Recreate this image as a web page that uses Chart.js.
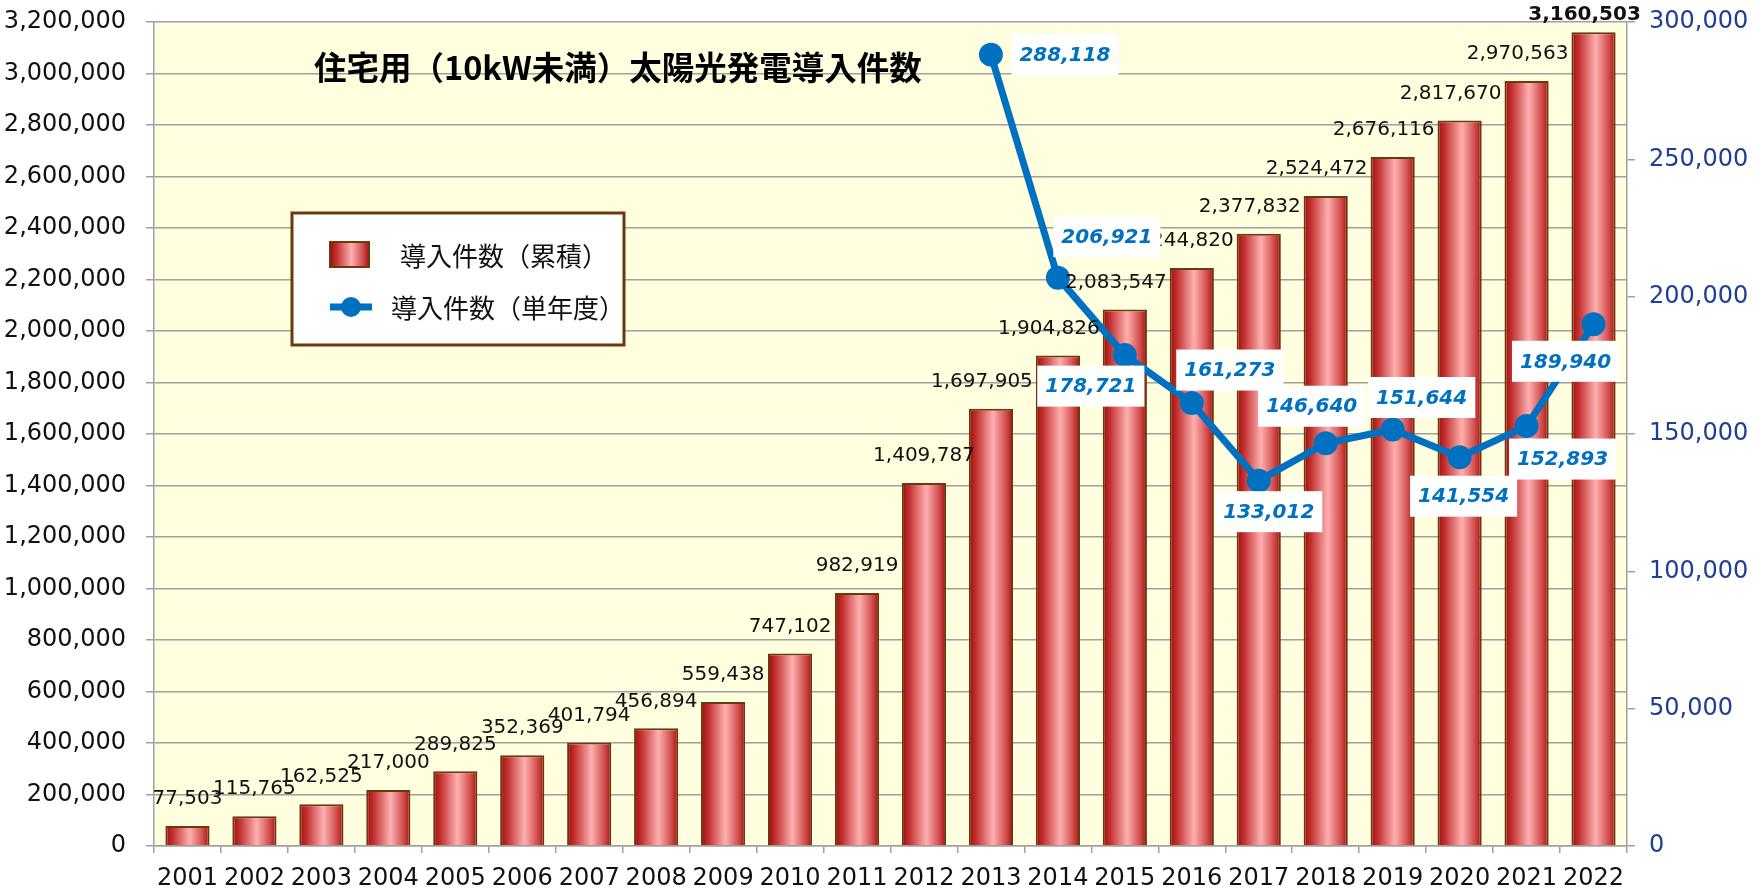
<!DOCTYPE html>
<html lang="ja">
<head>
  <meta charset="UTF-8">
  <title>住宅用（10kW未満）太陽光発電導入件数</title>
  <style>
    html, body { margin: 0; padding: 0; background: #ffffff; }
    #wrap { width: 1757px; height: 895px; }
  </style>
</head>
<body>
  <div id="wrap"><canvas id="solarChart" width="1757" height="895"></canvas></div>

  <script src="https://cdn.jsdelivr.net/npm/chart.js@4"></script>
  <script>
    // data
    const years = ['2001', '2002', '2003', '2004', '2005', '2006', '2007', '2008', '2009', '2010', '2011',
      '2012', '2013', '2014', '2015', '2016', '2017', '2018', '2019', '2020', '2021', '2022'];
    const cumulative = [77503, 115765, 162525, 217000, 289825, 352369, 401794, 456894, 559438, 747102, 982919,
      1409787, 1697905, 1904826, 2083547, 2244820, 2377832, 2524472, 2676116, 2817670, 2970563, 3160503];
    const yearly = [null, null, null, null, null, null, null, null, null, null, null,
      null, 288118, 206921, 178721, 161273, 133012, 146640, 151644, 141554, 152893, 189940];

    const chartTitle = '住宅用（10kW未満）太陽光発電導入件数';
    const barLabel = '導入件数（累積）';
    const lineLabel = '導入件数（単年度）';

    // where each yearly label box sits relative to its point (layout only)
    const yearlyLabelNudge = {
      2013: [74, 0], 2014: [49, -41], 2015: [-34, 31], 2016: [38, -33], 2017: [10, 31],
      2018: [-14, -37], 2019: [29, -32], 2020: [4, 39], 2021: [36, 33], 2022: [-28, 37]
    };

    const LATIN = '"DejaVu Sans", Verdana, sans-serif';
    const CJK = '"Noto Sans CJK JP", "Noto Sans", sans-serif';
    const BLUE = '#0070C0';
    const BROWN = '#6B3A0C';
    const GRID = '#A0A0A0';

    const fmt = v => Number(v).toLocaleString('en-US');

    function barGradient(ctx, x0, x1) {
      const g = ctx.createLinearGradient(x0, 0, x1, 0);
      g.addColorStop(0, '#A00A0A');
      g.addColorStop(0.18, '#C53434');
      g.addColorStop(0.55, '#FFB0B0');
      g.addColorStop(0.85, '#D04A4A');
      g.addColorStop(1, '#A50F0F');
      return g;
    }

    function barFill(context) {
      const chart = context.chart;
      if (!chart.chartArea || !chart.scales.x) return '#C53434';
      const x = chart.scales.x.getPixelForValue(context.dataIndex);
      const half = chart.chartArea.width / years.length * 0.66 / 2;
      return barGradient(chart.ctx, x - half, x + half);
    }

    // vertical axes: fixed width, no extra room for the end labels
    function fixAxis(width) {
      return function (scale) {
        scale.width = width;
        scale.paddingTop = 0;
        scale.paddingBottom = 0;
      };
    }

    // background of the plot area
    const plotBackground = {
      id: 'plotBackground',
      beforeDraw(chart) {
        const { ctx, chartArea: a } = chart;
        ctx.save();
        ctx.fillStyle = '#FFFFE0';
        ctx.fillRect(a.left, a.top, a.right - a.left, a.bottom - a.top);
        ctx.restore();
      }
    };

    // title, legend box and value labels
    const annotations = {
      id: 'annotations',
      afterDatasetsDraw(chart) {
        const { ctx } = chart;
        const barMeta = chart.getDatasetMeta(0);
        const lineMeta = chart.getDatasetMeta(1);
        ctx.save();

        // bar value labels
        ctx.textAlign = 'center';
        ctx.textBaseline = 'middle';
        ctx.fillStyle = '#111111';
        barMeta.data.forEach((bar, i) => {
          const last = i === cumulative.length - 1;
          ctx.font = (last ? 'bold ' : '') + '20px ' + LATIN;
          ctx.fillText(fmt(cumulative[i]), bar.x - (i > 11 ? 9 : 0), bar.y - (last ? 17 : 27));
        });

        // yearly value labels in white boxes
        ctx.font = 'italic bold 20px ' + LATIN;
        lineMeta.data.forEach((pt, i) => {
          if (yearly[i] === null) return;
          const nudge = yearlyLabelNudge[years[i]] || [0, -35];
          const cx = pt.x + nudge[0];
          const cy = pt.y + nudge[1];
          const text = fmt(yearly[i]);
          const w = ctx.measureText(text).width + 16;
          const h = 41;
          ctx.fillStyle = '#FFFFFF';
          ctx.fillRect(cx - w / 2, cy - h / 2, w, h);
          ctx.fillStyle = BLUE;
          ctx.fillText(text, cx, cy + 1);
        });

        // title
        ctx.textAlign = 'left';
        ctx.fillStyle = '#000000';
        ctx.font = 'bold 32.5px ' + CJK;
        ctx.fillText(chartTitle, 314, 68);

        // legend box
        ctx.fillStyle = '#FFFFFF';
        ctx.fillRect(292, 213, 332, 132);
        ctx.lineWidth = 3;
        ctx.strokeStyle = BROWN;
        ctx.strokeRect(292, 213, 332, 132);

        ctx.fillStyle = barGradient(ctx, 330, 369);
        ctx.fillRect(330, 242, 39, 25);
        ctx.lineWidth = 2;
        ctx.strokeRect(330, 242, 39, 25);

        ctx.strokeStyle = BLUE;
        ctx.lineWidth = 7;
        ctx.beginPath();
        ctx.moveTo(330, 307);
        ctx.lineTo(372, 307);
        ctx.stroke();
        ctx.fillStyle = BLUE;
        ctx.beginPath();
        ctx.arc(351, 307, 10, 0, Math.PI * 2);
        ctx.fill();

        ctx.fillStyle = '#111111';
        ctx.font = '26px ' + CJK;
        ctx.fillText(barLabel, 400, 256);
        ctx.fillText(lineLabel, 391, 308);

        ctx.restore();
      }
    };

    const ctx = document.getElementById('solarChart').getContext('2d');
    const solarChart = new Chart(ctx, {
      data: {
        labels: years,
        datasets: [
          {
            type: 'bar',
            label: barLabel,
            data: cumulative,
            yAxisID: 'y',
            backgroundColor: barFill,
            borderColor: BROWN,
            borderWidth: 2,
            borderSkipped: 'bottom',
            categoryPercentage: 1,
            barPercentage: 0.66,
            order: 2
          },
          {
            type: 'line',
            label: lineLabel,
            data: yearly,
            yAxisID: 'y2',
            borderColor: BLUE,
            backgroundColor: BLUE,
            borderWidth: 7,
            pointRadius: 12,
            pointHoverRadius: 12,
            pointBackgroundColor: BLUE,
            pointBorderWidth: 0,
            tension: 0,
            order: 1
          }
        ]
      },
      options: {
        responsive: false,
        animation: false,
        layout: { padding: { top: 22, right: 0, left: 0, bottom: 0 } },
        plugins: {
          legend: { display: false },
          title: { display: false },
          tooltip: { enabled: false }
        },
        scales: {
          x: {
            grid: {
              offset: true,
              drawOnChartArea: false,
              color: GRID,
              lineWidth: 1.5,
              tickLength: 7
            },
            border: { color: GRID, width: 1.5 },
            ticks: {
              color: '#111111',
              font: { family: LATIN, size: 24 },
              padding: 11,
              autoSkip: false,
              maxRotation: 0
            },
            afterFit(scale) { scale.height = 49; }
          },
          y: {
            position: 'left',
            min: 0,
            max: 3200000,
            grid: { color: GRID, lineWidth: 1.5, tickLength: 8 },
            border: { color: GRID, width: 1.5 },
            ticks: {
              stepSize: 200000,
              color: '#111111',
              font: { family: LATIN, size: 24 },
              padding: 20,
              callback: v => fmt(v)
            },
            afterFit: fixAxis(154)
          },
          y2: {
            position: 'right',
            min: 0,
            max: 300000,
            grid: { drawOnChartArea: false, color: GRID, lineWidth: 1.5, tickLength: 8 },
            border: { color: GRID, width: 1.5 },
            ticks: {
              stepSize: 50000,
              color: '#1F3F94',
              font: { family: LATIN, size: 24 },
              padding: 14,
              callback: v => fmt(v)
            },
            afterFit: fixAxis(130)
          }
        }
      },
      plugins: [plotBackground, annotations]
    });
  </script>
</body>
</html>
